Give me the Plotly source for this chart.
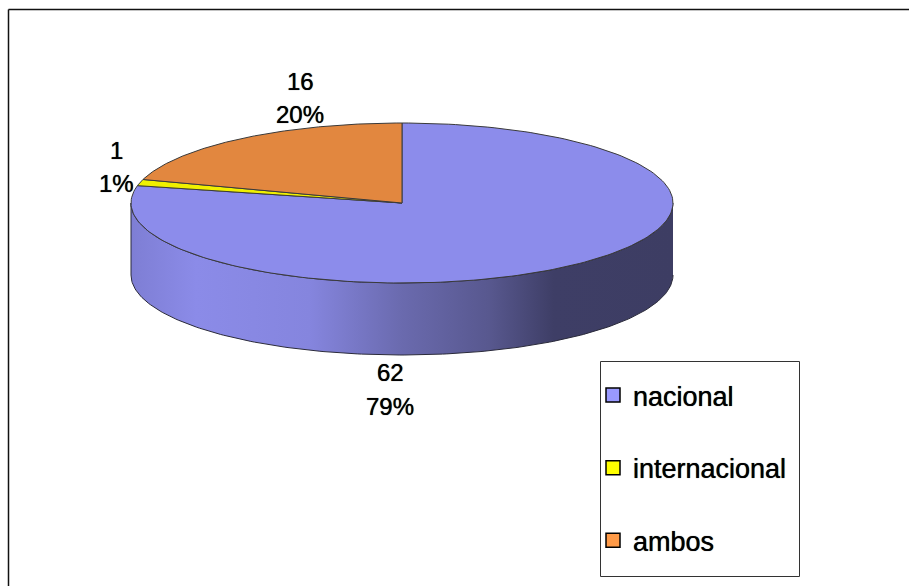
import numpy as np
import plotly.graph_objects as go

categories = ["nacional", "internacional", "ambos"]
values = [62, 1, 16]
percents = [79, 1, 20]
top_colors = ["#8C8CEB", "#F0F000", "#E2873F"]
legend_colors = ["#9999FF", "#FFFF00", "#FF9A47"]

# drawing geometry in page pixels
CX, CY, RX, RY, DEPTH = 402, 203, 271, 80, 72
label_pos = [(390, 372, 406), (116, 150, 183), (300, 81, 114)]
FONT = "Liberation Sans"
SOFT_BOLD = "0 0 0.7px #000"


def rim(a):
    return CX + RX * np.sin(a), CY - RY * np.cos(a)


fractions = np.array(values) / sum(values)
edges = np.concatenate([[0], np.cumsum(fractions)]) * 2 * np.pi

fig = go.Figure()

# side wall (front half of the nacional slice)
a = np.linspace(np.pi / 2, 3 * np.pi / 2, 200)
xr, yr = rim(a)
wall_x = np.concatenate([xr, xr[::-1]])
wall_y = np.concatenate([yr, yr[::-1] + DEPTH])
fig.add_trace(go.Scatter(
    x=wall_x, y=wall_y, mode="lines", fill="toself",
    line=dict(color="#2a2a3a", width=1),
    fillgradient=dict(type="horizontal", colorscale=[
        [0.00, "#7E7ED4"], [0.12, "#8B8BE8"], [0.33, "#8585DE"], [0.50, "#6A6AAE"],
        [0.66, "#58588F"], [0.78, "#3E3E66"], [1.00, "#3D3D63"]]),
    showlegend=False, hoverinfo="skip"))

# top faces
for i, cat in enumerate(categories):
    a = np.linspace(edges[i], edges[i + 1], 200)
    xr, yr = rim(a)
    fig.add_trace(go.Scatter(
        x=np.concatenate([[CX], xr, [CX]]), y=np.concatenate([[CY], yr, [CY]]),
        mode="lines", fill="toself", fillcolor=top_colors[i],
        line=dict(color="#3a3a3a", width=1),
        showlegend=False, name=cat, hoverinfo="skip"))

# legend entries
for i, cat in enumerate(categories):
    fig.add_trace(go.Scatter(
        x=[None], y=[None], mode="markers", name=cat, legendgroup=cat,
        marker=dict(symbol="square", size=14, color=legend_colors[i],
                    line=dict(color="black", width=1.5))))

# data labels
for i in range(3):
    lx, y1, y2 = label_pos[i]
    for txt, ly in ((str(values[i]), y1), (f"{percents[i]}%", y2)):
        fig.add_annotation(x=lx, y=ly, text=txt, showarrow=False,
                           font=dict(family=FONT, size=24, color="black", shadow=SOFT_BOLD))

fig.update_layout(
    width=909, height=586, margin=dict(l=0, r=0, t=0, b=0),
    paper_bgcolor="white", plot_bgcolor="white",
    font=dict(family=FONT, color="black"),
    xaxis=dict(range=[0, 909], visible=False, fixedrange=True),
    yaxis=dict(range=[586, 0], visible=False, fixedrange=True),
    legend=dict(x=593 / 909, y=1 - 371 / 586, xanchor="left", yanchor="top",
                font=dict(family=FONT, size=27, shadow=SOFT_BOLD), tracegroupgap=34.5,
                bgcolor="rgba(0,0,0,0)", traceorder="grouped"),
    shapes=[
        dict(type="line", x0=8.5, x1=8.5, y0=9.5, y1=586, line=dict(color="#111", width=1.5)),
        dict(type="line", x0=8.5, x1=909, y0=9.5, y1=9.5, line=dict(color="#111", width=1.5)),
        dict(type="rect", x0=600.5, x1=799.5, y0=361.5, y1=576.5,
             line=dict(color="#333", width=1)),
    ],
)
fig.write_html("out.html", config={"displayModeBar": False},
               post_script="document.body.style.margin='0';")
